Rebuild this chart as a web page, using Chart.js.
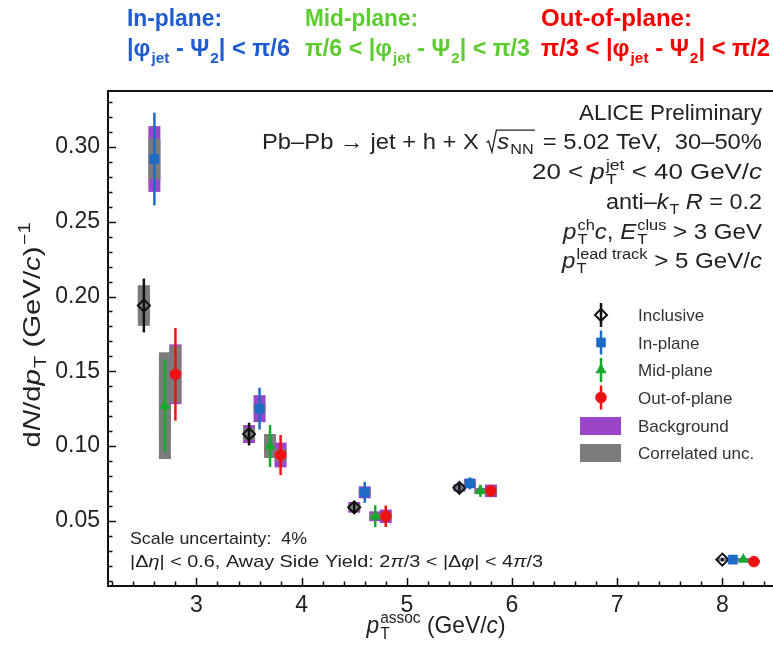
<!DOCTYPE html>
<html><head><meta charset="utf-8">
<script src="https://cdn.jsdelivr.net/npm/chart.js@4.4.1/dist/chart.umd.min.js"></script>
<style>html,body{margin:0;padding:0;background:#fff;}#wrap{width:773px;height:645px;}</style>
</head><body><div id="wrap"><canvas id="c" width="773" height="645"></canvas></div>
<script>
// ---------- data ----------
const seriesNames = ['Inclusive', 'In-plane', 'Mid-plane', 'Out-of-plane'];
const boxNames = ['Background', 'Correlated unc.'];

const inclusiveX    = [2.5, 3.5, 4.5, 5.5, 8.0];
const inclusiveY    = [0.194, 0.108, 0.059, 0.072, 0.024];
const inclusiveErr  = [0.018, 0.0076, 0.004, 0.003, 0.0012];
const inclusiveBkg  = [0.010, 0.006, 0.0036, 0.0025, 0.001];
const inclusiveCorr = [0.0136, 0.004, 0.002, 0.0015, 0.0008];

const inPlaneX    = [2.6, 3.6, 4.6, 5.6, 8.1];
const inPlaneY    = [0.292, 0.125, 0.069, 0.075, 0.024];
const inPlaneErr  = [0.031, 0.014, 0.007, 0.004, 0.0012];
const inPlaneBkg  = [0.022, 0.009, 0.004, 0.003, 0.001];
const inPlaneCorr = [0.0136, 0.003, 0.0015, 0.001, 0.0008];

const midPlaneX    = [2.7, 3.7, 4.7, 5.7, 8.2];
const midPlaneY    = [0.127, 0.100, 0.053, 0.070, 0.024];
const midPlaneErr  = [0.031, 0.014, 0.0073, 0.004, 0.0012];
const midPlaneBkg  = [0.020, 0.005, 0.0033, 0.002, 0.001];
const midPlaneCorr = [0.0357, 0.008, 0.002, 0.0015, 0.0008];

const outPlaneX    = [2.8, 3.8, 4.8, 5.8, 8.3];
const outPlaneY    = [0.148, 0.094, 0.053, 0.070, 0.0227];
const outPlaneErr  = [0.031, 0.0134, 0.0072, 0.004, 0.0012];
const outPlaneBkg  = [0.020, 0.0083, 0.0045, 0.0042, 0.001];
const outPlaneCorr = [0.019, 0.004, 0.002, 0.002, 0.0008];

const xTicks = [3, 4, 5, 6, 7, 8];
const yTicks = [0.05, 0.10, 0.15, 0.20, 0.25, 0.30];
const xRange = [2.159, 8.482];
const yRange = [0.00635, 0.3375];

// ---------- styles ----------
const C_BLUE = '#1c6cc6', C_GREEN = '#14a82c', C_RED = '#ee1111', C_BLACK = '#111111';
const C_PURPLE = '#9b46c8', C_GRAY = '#7c7c7c';
const FAM = '"Liberation Sans", Arial, sans-serif';

function fnt(size, it, weight) { return (it ? 'italic ' : '') + (weight || 'normal') + ' ' + size + 'px ' + FAM; }
function norm(s) { return typeof s === 'string' ? { t: s } : s; }
function drawSegs(ctx, segs, x, y, o, draw) {
  const S = o.size, W = o.weight;
  for (const s0 of segs) {
    const s = norm(s0);
    if (s.sqrt) {
      const rw = S * 0.5;
      const end = drawSegs(ctx, s.sqrt, x + rw, y, o, draw);
      if (draw) {
        ctx.save(); ctx.lineWidth = S * 0.055; ctx.strokeStyle = ctx.fillStyle; ctx.beginPath();
        ctx.moveTo(x + S * 0.04, y - S * 0.30); ctx.lineTo(x + S * 0.13, y - S * 0.36);
        ctx.lineTo(x + S * 0.27, y + S * 0.14); ctx.lineTo(x + S * 0.46, y - S * 0.86);
        ctx.lineTo(end + S * 0.05, y - S * 0.86); ctx.stroke(); ctx.restore();
      }
      x = end + S * 0.1; continue;
    }
    if (s.t) { ctx.font = fnt(S, s.it, W); if (draw) ctx.fillText(s.t, x, y); x += ctx.measureText(s.t).width; }
    let sw = 0; const ss = S * (o.subScale || 0.68);
    if (s.sub) { ctx.font = fnt(ss, false, W); if (draw) ctx.fillText(s.sub, x + 1, y + S * (o.subDy || 0.24)); sw = Math.max(sw, ctx.measureText(s.sub).width + 1); }
    if (s.sup) { ctx.font = fnt(ss, false, W); if (draw) ctx.fillText(s.sup, x + 1, y - S * 0.42); sw = Math.max(sw, ctx.measureText(s.sup).width + 1); }
    x += sw;
  }
  return x;
}
function rich(ctx, segs, x, y, o) {
  ctx.save();
  const nat = drawSegs(ctx, segs, 0, 0, o, false);
  const tw = o.width || nat, sx = tw / nat;
  const x0 = o.align === 'right' ? x - tw : o.align === 'center' ? x - tw / 2 : x;
  ctx.translate(x0, y); ctx.scale(sx, 1);
  ctx.fillStyle = o.color || '#222'; ctx.textAlign = 'left'; ctx.textBaseline = 'alphabetic';
  drawSegs(ctx, segs, 0, 0, o, true);
  ctx.restore();
}

// ---------- text content ----------
const headerLines = [
  { color: '#1f5cd1', x: 127, w1: 95, w2: 163, l1: ['In-plane:'], l2: ['|φ', { sub: 'jet' }, ' - Ψ', { sub: '2' }, '| < π/6'] },
  { color: '#5ccc30', x: 305, w1: 113, w2: 225, l1: ['Mid-plane:'], l2: ['π/6 < |φ', { sub: 'jet' }, ' - Ψ', { sub: '2' }, '| < π/3'] },
  { color: '#f50000', x: 541, w1: 151, w2: 229, l1: ['Out-of-plane:'], l2: ['π/3 < |φ', { sub: 'jet' }, ' - Ψ', { sub: '2' }, '| < π/2'] },
];
const annotLines = [
  { segs: ['ALICE Preliminary'], w: 183, y: 120 },
  { segs: ['Pb–Pb → jet + h + X ', { sqrt: [{ t: 's', it: true, sub: 'NN' }] }, ' = 5.02 TeV,  30–50%'], w: 500, y: 149 },
  { segs: ['20 < ', { t: 'p', it: true, sub: 'T', sup: 'jet' }, ' < 40 GeV/', { t: 'c', it: true }], w: 230, y: 179 },
  { segs: ['anti–', { t: 'k', it: true, sub: 'T' }, ' ', { t: 'R', it: true }, ' = 0.2'], w: 156, y: 209 },
  { segs: [{ t: 'p', it: true, sub: 'T', sup: 'ch' }, { t: 'c', it: true }, ', ', { t: 'E', it: true, sub: 'T', sup: 'clus' }, ' > 3 GeV'], w: 199, y: 239 },
  { segs: [{ t: 'p', it: true, sub: 'T', sup: 'lead track' }, ' > 5 GeV/', { t: 'c', it: true }], w: 200, y: 268 },
];
const noteLines = [
  { segs: ['Scale uncertainty:  4%'], w: 177, y: 544 },
  { segs: ['|Δ', { t: 'η', it: true }, '| < 0.6, Away Side Yield: 2', { t: 'π', it: true }, '/3 < |Δ', { t: 'φ', it: true }, '| < 4', { t: 'π', it: true }, '/3'], w: 413, y: 567 },
];
const xTitle = [{ t: 'p', it: true, sub: 'T', sup: 'assoc' }, ' (GeV/', { t: 'c', it: true }, ')'];
const yTitle = ['d', { t: 'N', it: true }, '/d', { t: 'p', it: true, sub: 'T' }, ' (GeV/', { t: 'c', it: true }, ')', { sup: '−1' }];

// ---------- datasets ----------
function mk(name, X, Y, E, B, K, color, style, r, order, fill, bw) {
  return {
    label: name, data: X.map((x, i) => ({ x: x, y: Y[i] })), errs: E, bkg: B, corr: K,
    pointStyle: style, pointRadius: r, pointBackgroundColor: fill, pointBorderColor: color,
    pointBorderWidth: bw, errColor: color, showLine: false, order: order
  };
}
const datasets = [
  mk(seriesNames[0], inclusiveX, inclusiveY, inclusiveErr, inclusiveBkg, inclusiveCorr, C_BLACK, 'rectRot', 6, 4, 'rgba(0,0,0,0)', 2),
  mk(seriesNames[1], inPlaneX, inPlaneY, inPlaneErr, inPlaneBkg, inPlaneCorr, C_BLUE, 'rect', 6.5, 3, C_BLUE, 0.5),
  mk(seriesNames[2], midPlaneX, midPlaneY, midPlaneErr, midPlaneBkg, midPlaneCorr, C_GREEN, 'triangle', 6, 2, C_GREEN, 0.5),
  mk(seriesNames[3], outPlaneX, outPlaneY, outPlaneErr, outPlaneBkg, outPlaneCorr, C_RED, 'circle', 5.5, 1, C_RED, 0.5),
];

// ---------- plugins ----------
const uncPlugin = {
  id: 'unc',
  beforeDatasetsDraw(chart) {
    const ctx = chart.ctx, ys = chart.scales.y, ca = chart.chartArea;
    ctx.save();
    ctx.beginPath(); ctx.rect(ca.left, ca.top, ca.right - ca.left, ca.bottom - ca.top); ctx.clip();
    const half = 6;
    chart.data.datasets.forEach((ds, di) => {
      const meta = chart.getDatasetMeta(di);
      meta.data.forEach((el, i) => {
        const v = ds.data[i].y;
        const b = ds.bkg[i], k = ds.corr[i];
        let t = ys.getPixelForValue(v + b), bo = ys.getPixelForValue(v - b);
        ctx.fillStyle = C_PURPLE; ctx.fillRect(el.x - half, t, 2 * half, bo - t);
        t = ys.getPixelForValue(v + k); bo = ys.getPixelForValue(v - k);
        ctx.fillStyle = C_GRAY; ctx.fillRect(el.x - half, t, 2 * half, bo - t);
      });
    });
    chart.data.datasets.forEach((ds, di) => {
      const meta = chart.getDatasetMeta(di);
      ctx.strokeStyle = ds.errColor; ctx.lineWidth = 2.5;
      meta.data.forEach((el, i) => {
        const v = ds.data[i].y, e = ds.errs[i];
        ctx.beginPath();
        ctx.moveTo(el.x, ys.getPixelForValue(v + e)); ctx.lineTo(el.x, ys.getPixelForValue(v - e));
        ctx.stroke();
      });
    });
    ctx.restore();
  },
  afterDraw(chart) {
    const ctx = chart.ctx, xs = chart.scales.x, ys = chart.scales.y, ca = chart.chartArea;
    const W = chart.width;
    ctx.save();
    // frame
    ctx.strokeStyle = '#111'; ctx.lineWidth = 2;
    ctx.beginPath();
    ctx.moveTo(W, ca.top); ctx.lineTo(ca.left, ca.top); ctx.lineTo(ca.left, ca.bottom); ctx.lineTo(W, ca.bottom);
    ctx.stroke();
    // ticks
    ctx.lineWidth = 1.5;
    ctx.beginPath();
    for (let k = 11; k <= 42; k++) {
      const v = k * 0.2, px = Math.round(xs.getPixelForValue(v)) + 0.5;
      const major = Math.abs(v - Math.round(v)) < 1e-6;
      ctx.moveTo(px, ca.bottom); ctx.lineTo(px, ca.bottom - (major ? 8 : 4.5));
    }
    for (let k = 1; k <= 33; k++) {
      const v = k * 0.01, py = Math.round(ys.getPixelForValue(v)) + 0.5;
      const major = k % 5 === 0;
      ctx.moveTo(ca.left, py); ctx.lineTo(ca.left + (major ? 8 : 4.5), py);
    }
    ctx.stroke();

    // header
    headerLines.forEach(h => {
      rich(ctx, h.l1, h.x, 26, { size: 23, weight: 'bold', color: h.color, width: h.w1 });
      rich(ctx, h.l2, h.x, 56, { size: 23, weight: 'bold', color: h.color, width: h.w2, subDy: 0.3, subScale: 0.65 });
    });
    // annotations
    annotLines.forEach(a => rich(ctx, a.segs, 762, a.y, { size: 22, color: '#222', width: a.w, align: 'right' }));
    noteLines.forEach(a => rich(ctx, a.segs, 130, a.y, { size: 17, color: '#222', width: a.w }));
    // axis titles
    rich(ctx, xTitle, 436, 633, { size: 24, color: '#222', width: 139, align: 'center' });
    ctx.save(); ctx.translate(40, 335); ctx.rotate(-Math.PI / 2);
    rich(ctx, yTitle, 0, 0, { size: 24, color: '#222', width: 225, align: 'center' });
    ctx.restore();

    // legend
    const lx = 601, tx = 638, rows = [315, 342.5, 370, 397.5, 426, 453];
    chart.data.datasets.forEach((ds, di) => {
      const y = rows[di];
      ctx.strokeStyle = ds.errColor; ctx.lineWidth = 2.5;
      ctx.beginPath(); ctx.moveTo(lx, y - 12); ctx.lineTo(lx, y + 12); ctx.stroke();
      ctx.fillStyle = ds.pointBackgroundColor; ctx.strokeStyle = ds.pointBorderColor; ctx.lineWidth = ds.pointBorderWidth;
      Chart.helpers.drawPoint(ctx, { pointStyle: ds.pointStyle, radius: ds.pointRadius, rotation: 0, borderWidth: ds.pointBorderWidth }, lx, y);
      rich(ctx, [ds.label], tx, y + 6, { size: 17, color: '#333' });
    });
    ctx.fillStyle = C_PURPLE; ctx.fillRect(580, rows[4] - 9, 41, 18);
    ctx.fillStyle = C_GRAY; ctx.fillRect(580, rows[5] - 9, 41, 18);
    rich(ctx, [boxNames[0]], tx, rows[4] + 6, { size: 17, color: '#333' });
    rich(ctx, [boxNames[1]], tx, rows[5] + 6, { size: 17, color: '#333' });
    ctx.restore();
  }
};

new Chart(document.getElementById('c'), {
  type: 'scatter',
  data: { datasets: datasets },
  options: {
    responsive: false, animation: false, devicePixelRatio: 1, events: [],
    layout: { autoPadding: false, padding: { top: 91, right: 0, left: 0, bottom: 0 } },
    plugins: { legend: { display: false }, tooltip: { enabled: false } },
    scales: {
      x: {
        type: 'linear', min: xRange[0], max: xRange[1],
        grid: { display: false, drawTicks: false }, border: { display: false },
        afterBuildTicks: s => { s.ticks = xTicks.map(v => ({ value: v })); },
        afterFit: s => { s.height = 59; },
        ticks: { color: '#222', padding: 6, font: { family: FAM, size: 23 }, callback: v => String(v), maxRotation: 0, autoSkip: false }
      },
      y: {
        type: 'linear', min: yRange[0], max: yRange[1],
        grid: { display: false, drawTicks: false }, border: { display: false },
        afterBuildTicks: s => { s.ticks = yTicks.map(v => ({ value: v })); },
        afterFit: s => { s.width = 108; },
        ticks: { color: '#222', padding: 8, font: { family: FAM, size: 23 }, callback: v => v.toFixed(2), autoSkip: false }
      }
    }
  },
  plugins: [uncPlugin]
});
</script>
</body></html>
